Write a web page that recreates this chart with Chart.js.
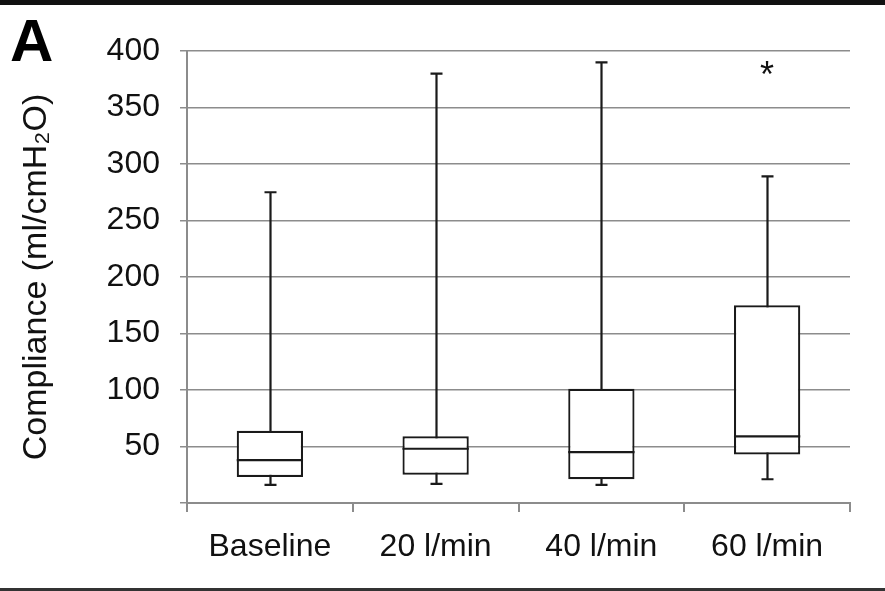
<!DOCTYPE html>
<html>
<head>
<meta charset="utf-8">
<script src="https://cdn.jsdelivr.net/npm/chart.js@4.4.1/dist/chart.umd.min.js"></script>
<style>
    html, body { margin: 0; padding: 0; background: #fff; }
    #wrap {
        position: relative;
        width: 885px;
        height: 591px;
        box-sizing: border-box;
        border-top: 5px solid #111;
        border-bottom: 3px solid #333;
    }
    #panel {
        position: absolute;
        left: 10px;
        top: 1px;
        font: bold 60px 'Liberation Sans', Arial, sans-serif;
        color: #000;
    }
    canvas { display: block; }
</style>
</head>
<body>
<div id="wrap">
    <div id="panel">A</div>
    <canvas id="compliance" width="885" height="583"></canvas>
</div>
<script>
var categories = ['Baseline', '20 l/min', '40 l/min', '60 l/min'];
var whiskerMin = [16, 17, 16, 21];
var quart1 = [23, 25, 21, 43];
var median = [38, 48, 45, 59];
var quart3 = [64, 59, 101, 175];
var whiskerMax = [275, 380, 390, 289];
// asterisk marker (significance) on the last group
var starIndex = 3;
var starValue = 382;

var fontFamily = "'Liberation Sans', Arial, sans-serif";

var boxPlotPlugin = {
    id: 'boxPlot',
    beforeDatasetsDraw: function (chart) {
        var ctx = chart.ctx;
        var xs = chart.scales.x;
        var ys = chart.scales.y;
        ctx.save();
        ctx.strokeStyle = '#1a1a1a';
        ctx.lineWidth = 2.2;
        for (var i = 0; i < categories.length; i++) {
            var x = Math.round(xs.getPixelForValue(i)) + 0.5;
            var yTop = ys.getPixelForValue(whiskerMax[i]);
            var yBot = ys.getPixelForValue(whiskerMin[i]);
            ctx.beginPath();
            ctx.moveTo(x, yTop);
            ctx.lineTo(x, yBot);
            ctx.moveTo(x - 6, yTop);
            ctx.lineTo(x + 6, yTop);
            ctx.moveTo(x - 6, yBot);
            ctx.lineTo(x + 6, yBot);
            ctx.stroke();
        }
        ctx.restore();
    },
    afterDatasetsDraw: function (chart) {
        var ctx = chart.ctx;
        var xs = chart.scales.x;
        var ys = chart.scales.y;
        var meta = chart.getDatasetMeta(0);
        ctx.save();
        ctx.strokeStyle = '#1a1a1a';
        ctx.lineWidth = 2.2;
        for (var i = 0; i < categories.length; i++) {
            var bar = meta.data[i];
            var half = bar.width / 2;
            var y = ys.getPixelForValue(median[i]);
            ctx.beginPath();
            ctx.moveTo(bar.x - half, y);
            ctx.lineTo(bar.x + half, y);
            ctx.stroke();
        }
        // asterisk
        ctx.fillStyle = '#111';
        ctx.font = '36px ' + fontFamily;
        ctx.textAlign = 'center';
        ctx.textBaseline = 'alphabetic';
        ctx.fillText('*', xs.getPixelForValue(starIndex), ys.getPixelForValue(starValue) + 16);
        ctx.restore();
    }
};

var ctx = document.getElementById('compliance').getContext('2d');
var compliance = new Chart(ctx, {
    type: 'bar',
    data: {
        labels: categories,
        datasets: [{
            label: 'Compliance',
            data: quart1.map(function (q, i) { return [q, quart3[i]]; }),
            backgroundColor: '#ffffff',
            borderColor: '#1a1a1a',
            borderWidth: 2.2,
            borderSkipped: false,
            categoryPercentage: 1,
            barPercentage: 0.4
        }]
    },
    options: {
        responsive: false,
        animation: false,
        layout: {
            padding: { left: 0, right: 35, top: 46, bottom: 0 }
        },
        plugins: {
            legend: { display: false },
            tooltip: { enabled: false }
        },
        scales: {
            x: {
                grid: {
                    display: true,
                    drawOnChartArea: false,
                    offset: true,
                    tickLength: 9,
                    color: '#8c8c8c',
                    lineWidth: 2
                },
                border: { color: '#8c8c8c', width: 2 },
                ticks: {
                    color: '#111',
                    padding: 16,
                    font: { family: fontFamily, size: 32 }
                },
                afterFit: function (scale) { scale.height = 85; }
            },
            y: {
                min: 0,
                max: 400,
                grid: {
                    color: '#8c8c8c',
                    lineWidth: 1.5,
                    tickLength: 7
                },
                border: { color: '#8c8c8c', width: 2 },
                ticks: {
                    stepSize: 50,
                    color: '#111',
                    padding: 20,
                    font: { family: fontFamily, size: 32 },
                    callback: function (v) { return v === 0 ? '' : v; }
                },
                title: {
                    display: true,
                    text: 'Compliance (ml/cmH\u2082O)',
                    color: '#111',
                    padding: { top: 16, bottom: 0 },
                    font: { family: fontFamily, size: 34 }
                },
                afterFit: function (scale) { scale.width = 187; }
            }
        }
    },
    plugins: [boxPlotPlugin]
});
</script>
</body>
</html>
